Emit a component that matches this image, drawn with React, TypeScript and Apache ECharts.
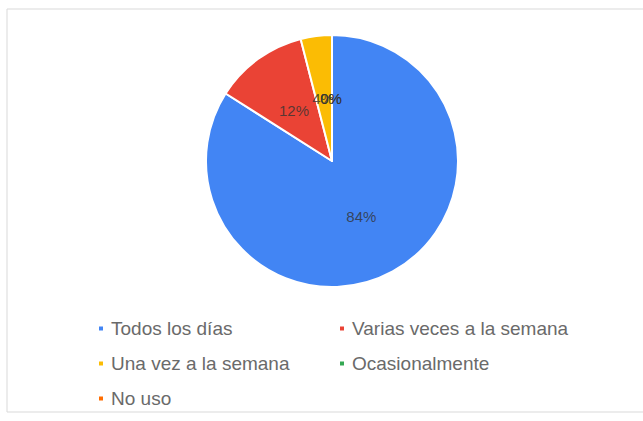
import React, { useEffect, useRef } from "react";
import * as echarts from "echarts";

const categories = [
  "Todos los días",
  "Varias veces a la semana",
  "Una vez a la semana",
  "Ocasionalmente",
  "No uso",
];
const values = [84, 12, 4, 0, 0];
const colors = ["#4285F4", "#EA4335", "#FBBC04", "#34A853", "#FF6D01"];
const leftLegend = [categories[0], categories[2], categories[4]];
const rightLegend = [categories[1], categories[3]];

export default function App() {
  const ref = useRef<HTMLDivElement>(null);
  useEffect(() => {
    if (!ref.current) return;
    const chart = echarts.init(ref.current, null, { renderer: "svg" });
    const total = values.reduce((a, b) => a + b, 0);
    let cum = 0;
    const labelPoints = values.map((v) => {
      const pct = (v / total) * 100;
      const mid = cum + pct / 2;
      cum += pct;
      return [0.5, mid, Math.round(pct)];
    });
    const legendBase = {
      orient: "vertical" as const,
      icon: "rect",
      itemWidth: 6,
      itemHeight: 6,
      itemGap: 16,
      padding: 0,
      textStyle: { fontSize: 19, color: "#6a6a6a", fontFamily: "Arial, 'Liberation Sans', sans-serif", padding: [0, 0, 0, 2] },
      selectedMode: false,
    };
    chart.setOption({
      animation: false,
      color: colors,
      graphic: [
        {
          type: "rect",
          shape: { x: 7, y: 9, width: 650, height: 403 },
          style: { fill: "none", stroke: "#d9d9d9", lineWidth: 1 },
          silent: true,
        },
      ],
      polar: { center: [331, 161], radius: 126 },
      angleAxis: { type: "value", min: 0, max: 100, startAngle: 90, clockwise: true, show: false },
      radiusAxis: { type: "value", min: 0, max: 1, show: false },
      legend: [
        { ...legendBase, left: 97, top: 319, data: leftLegend },
        { ...legendBase, left: 338, top: 319, data: rightLegend },
      ],
      series: [
        {
          type: "pie",
          center: [332, 161],
          radius: [0, 126],
          startAngle: 90,
          clockwise: true,
          data: categories.map((name, i) => ({ name, value: values[i] })),
          itemStyle: { borderColor: "#fff", borderWidth: 2 },
          label: { show: false },
          labelLine: { show: false },
          emphasis: { disabled: true },
        },
        {
          type: "scatter",
          name: "labels",
          coordinateSystem: "polar",
          symbolSize: 0,
          z: 10,
          silent: true,
          data: labelPoints,
          label: {
            show: true,
            position: "inside",
            formatter: (p: any) => p.value[2] + "%",
            fontSize: 15,
            color: "#333",
            fontFamily: "Arial, 'Liberation Sans', sans-serif",
          },
          emphasis: { disabled: true },
        },
      ],
    });
    return () => chart.dispose();
  }, []);
  return (
    <div
      ref={ref}
      style={{ position: "absolute", left: 0, top: 0, width: 643, height: 421, background: "#fff" }}
    />
  );
}
